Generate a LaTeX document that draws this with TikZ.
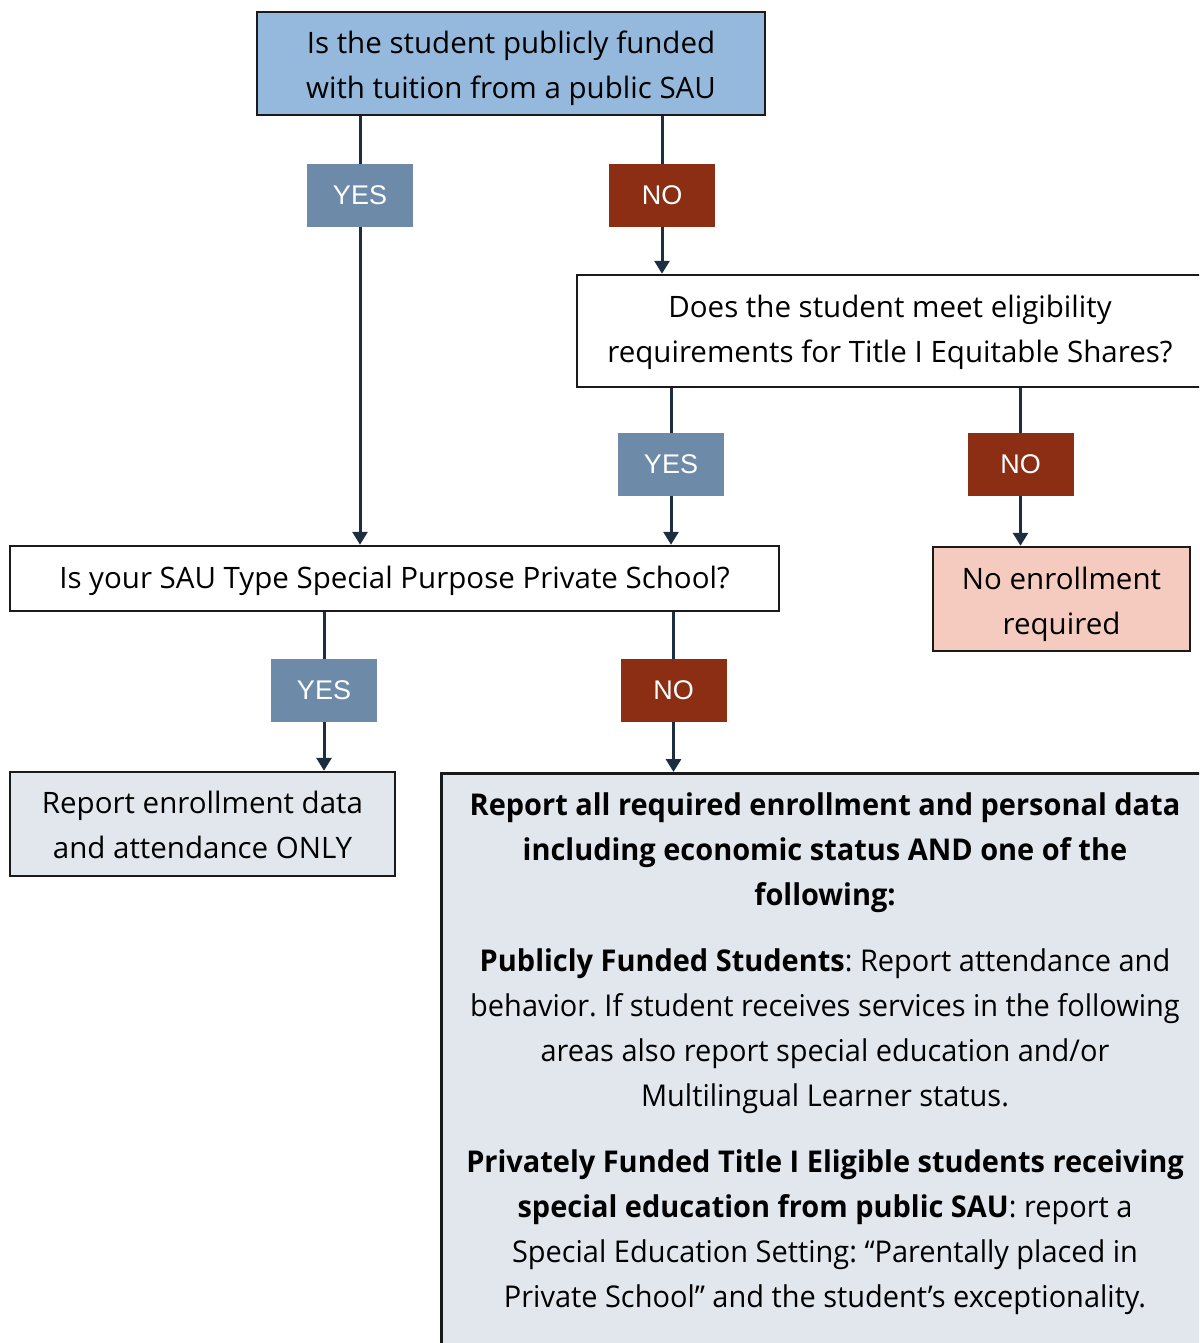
\documentclass[tikz,border=0pt]{standalone}
\usepackage{fontspec}
\setmainfont{Open Sans}
\newfontfamily\labelfont{Liberation Sans}
\newfontfamily\narrowfont[FakeStretch=0.965]{Open Sans}
\usetikzlibrary{arrows.meta}
\definecolor{topblue}{HTML}{95B9DC}
\definecolor{yesblue}{HTML}{6D8BA8}
\definecolor{nored}{HTML}{8B2E14}
\definecolor{pinkfill}{HTML}{F5CBBF}
\definecolor{greyfill}{HTML}{E2E7EE}
\definecolor{linecol}{HTML}{1D2E40}
\definecolor{boxline}{HTML}{1A1A1A}
\frenchspacing
\begin{document}
\begin{tikzpicture}[x=1pt,y=-1pt,
  box/.style={draw=boxline, line width=2.5pt, inner sep=0pt, align=center,
    font=\fontsize{29.5}{45}\selectfont\frenchspacing, text=black, text depth=10pt},
  lab/.style={text=white, font=\labelfont\fontsize{27}{32}\selectfont,
    minimum width=106pt, minimum height=63pt, inner sep=0pt},
  yeslab/.style={lab, fill=yesblue},
  nolab/.style={lab, fill=nored},
  conn/.style={draw=linecol, line width=3pt},
  arr/.style={conn, -{Triangle[width=15pt,length=13pt]}}]
\useasboundingbox (0,0) rectangle (1199,1343);
\clip (0,0) rectangle (1199,1343);
% boxes
\node[box, fill=topblue, minimum width=508pt, minimum height=103pt, text height=81pt] (q1) at (511,63.5)
  {Is the student publicly funded\\with tuition from a public SAU};
\node[box, fill=white, minimum width=626pt, minimum height=112pt, text height=72pt] (q2) at (890,331)
  {Does the student meet eligibility\\requirements for Title I Equitable Shares?};
\node[box, fill=white, minimum width=769pt, minimum height=65pt, text height=29.6pt] (q3) at (394.5,578.5)
  {Is your SAU Type Special Purpose Private School?};
\node[box, fill=pinkfill, minimum width=257pt, minimum height=104pt, text height=80pt] (noenr) at (1061.5,599)
  {No enrollment\\required};
\node[box, fill=greyfill, minimum width=385pt, minimum height=104pt, text height=79.6pt] (rep1) at (202.5,824)
  {Report enrollment data\\and attendance ONLY};
\node[box, fill=greyfill, minimum width=780pt, minimum height=600pt, anchor=north west] (rep2) at (440,772) {};
\node[font=\narrowfont\fontsize{30}{45}\selectfont\frenchspacing, align=center, anchor=north, inner sep=0pt] (rep2text) at (825,792)
  {\textbf{Report all required enrollment and personal data}\\
   \textbf{including economic status AND one of the}\\
   \textbf{following:}\\[21pt]
   \textbf{Publicly Funded Students}: Report attendance and\\
   behavior. If student receives services in the following\\
   areas also report special education and/or\\
   Multilingual Learner status.\\[21pt]
   \textbf{Privately Funded Title I Eligible students receiving}\\
   \textbf{special education from public SAU}: report a\\
   Special Education Setting: “Parentally placed in\\
   Private School” and the student’s exceptionality.};
% labels
\node[yeslab] (y1) at (360,195.5) {YES};
\node[nolab] (n1) at (662,195.5) {NO};
\node[yeslab] (y2) at (671,464.5) {YES};
\node[nolab] (n2) at (1020.5,464.5) {NO};
\node[yeslab] (y3) at (324,690.5) {YES};
\node[nolab] (n3) at (673.5,690.5) {NO};
% connectors
\draw[conn] (q1.south -| y1) -- (y1.north);
\draw[arr] (y1.south) -- (q3.north -| y1);
\draw[conn] (q1.south -| n1) -- (n1.north);
\draw[arr] (n1.south) -- (q2.north -| n1);
\draw[conn] (q2.south -| y2) -- (y2.north);
\draw[arr] (y2.south) -- (q3.north -| y2);
\draw[conn] (q2.south -| n2) -- (n2.north);
\draw[arr] (n2.south) -- (noenr.north -| n2);
\draw[conn] (q3.south -| y3) -- (y3.north);
\draw[arr] (y3.south) -- (rep1.north -| y3);
\draw[conn] (q3.south -| n3) -- (n3.north);
\draw[arr] (n3.south) -- (rep2.north -| n3);
\end{tikzpicture}
\end{document}
